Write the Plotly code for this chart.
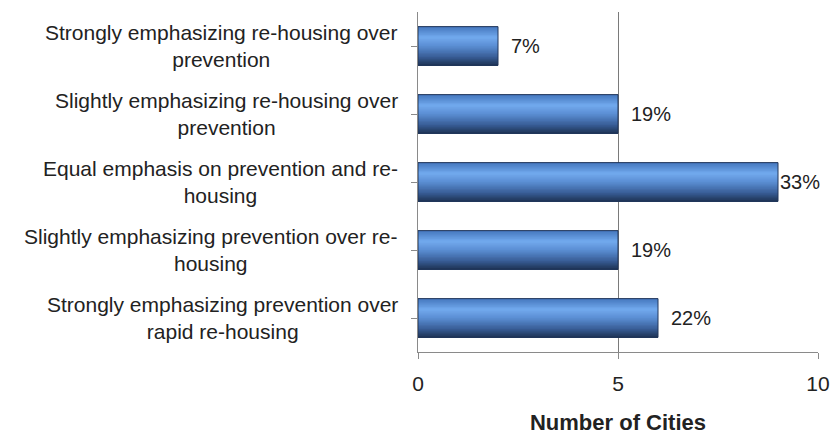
import plotly.graph_objects as go

# Survey responses: how cities balance prevention vs. rapid re-housing
categories = [
    "Strongly emphasizing re-housing over<br>prevention",
    "Slightly emphasizing re-housing over<br>prevention",
    "Equal emphasis on prevention and re-<br>housing",
    "Slightly emphasizing prevention over re-<br>housing",
    "Strongly emphasizing prevention over<br>rapid re-housing",
]
cities = [2, 5, 9, 5, 6]
pct_labels = ["7%", "19%", "33%", "19%", "22%"]
label_shift = [11, 11, 0, 11, 11]

FONT = "Liberation Sans, Arial, sans-serif"


def hex_to_rgb(h):
    h = h.lstrip("#")
    return [int(h[k:k + 2], 16) for k in (0, 2, 4)]


def shade(t, stops):
    """Linear colour interpolation across (position, hex) stops."""
    for (p0, c0), (p1, c1) in zip(stops, stops[1:]):
        if p0 <= t <= p1:
            f = (t - p0) / (p1 - p0) if p1 > p0 else 0
            a, b = hex_to_rgb(c0), hex_to_rgb(c1)
            return "rgb(%d,%d,%d)" % tuple(round(a[k] + (b[k] - a[k]) * f) for k in range(3))
    return stops[-1][1]


# Cylinder-style shading across the bar thickness (top -> bottom)
stops = [(0.0, "#4476bd"), (0.28, "#72aaee"), (0.5, "#5a8ed3"),
         (0.78, "#395e97"), (1.0, "#1d3353")]
bar_width = 0.57
n = 28
step = bar_width / n

fig = go.Figure()
for i in range(n):
    w = step * 2 if i < n - 1 else step
    fig.add_trace(go.Bar(
        y=list(range(len(categories))),
        x=cities,
        orientation="h",
        width=w,
        offset=-bar_width / 2 + i * step,
        marker=dict(color=shade((i + 0.5) / n, stops), line=dict(width=0)),
        hoverinfo="skip",
        showlegend=False,
    ))

# Thin outline around each bar
fig.add_trace(go.Bar(
    y=list(range(len(categories))),
    x=cities,
    orientation="h",
    width=bar_width,
    marker=dict(color="rgba(0,0,0,0)", line=dict(color="#22375a", width=1)),
    hoverinfo="skip",
    showlegend=False,
))

annotations = []
for i, (v, lab, sh) in enumerate(zip(cities, pct_labels, label_shift)):
    annotations.append(dict(
        x=v, y=i, xref="x", yref="y", text=lab, showarrow=False,
        xanchor="left", xshift=sh, font=dict(family=FONT, size=20, color="#222"),
    ))
for i, cat in enumerate(categories):
    annotations.append(dict(
        x=0, y=i, xref="paper", yref="y", text=cat, showarrow=False,
        xanchor="right", xshift=-18, align="center",
        font=dict(family=FONT, size=21, color="#222"),
    ))

fig.update_layout(
    width=830, height=435,
    margin=dict(l=418, r=12, t=12, b=83),
    paper_bgcolor="white", plot_bgcolor="white",
    barmode="overlay",
    annotations=annotations,
    xaxis=dict(
        range=[0, 10], tickvals=[0, 5, 10], showgrid=True,
        gridcolor="#7a7a7a", gridwidth=1, zeroline=False,
        showline=True, linecolor="#8a8a8a", linewidth=1,
        ticks="outside", ticklen=6, tickcolor="#8a8a8a",
        ticklabelstandoff=7,
        tickfont=dict(family=FONT, size=21, color="#222"),
        automargin=False,
        title=dict(text="<b>Number of Cities</b>", standoff=30,
                   font=dict(family=FONT, size=22, color="#222")),
    ),
    yaxis=dict(
        range=[4.5, -0.5], tickvals=list(range(len(categories))),
        showticklabels=False, tickson="boundaries",
        ticks="outside", ticklen=6, tickcolor="#8a8a8a",
        showline=True, linecolor="#8a8a8a", linewidth=1,
        showgrid=False, zeroline=False, automargin=False,
    ),
)

fig.write_html("out.html")
